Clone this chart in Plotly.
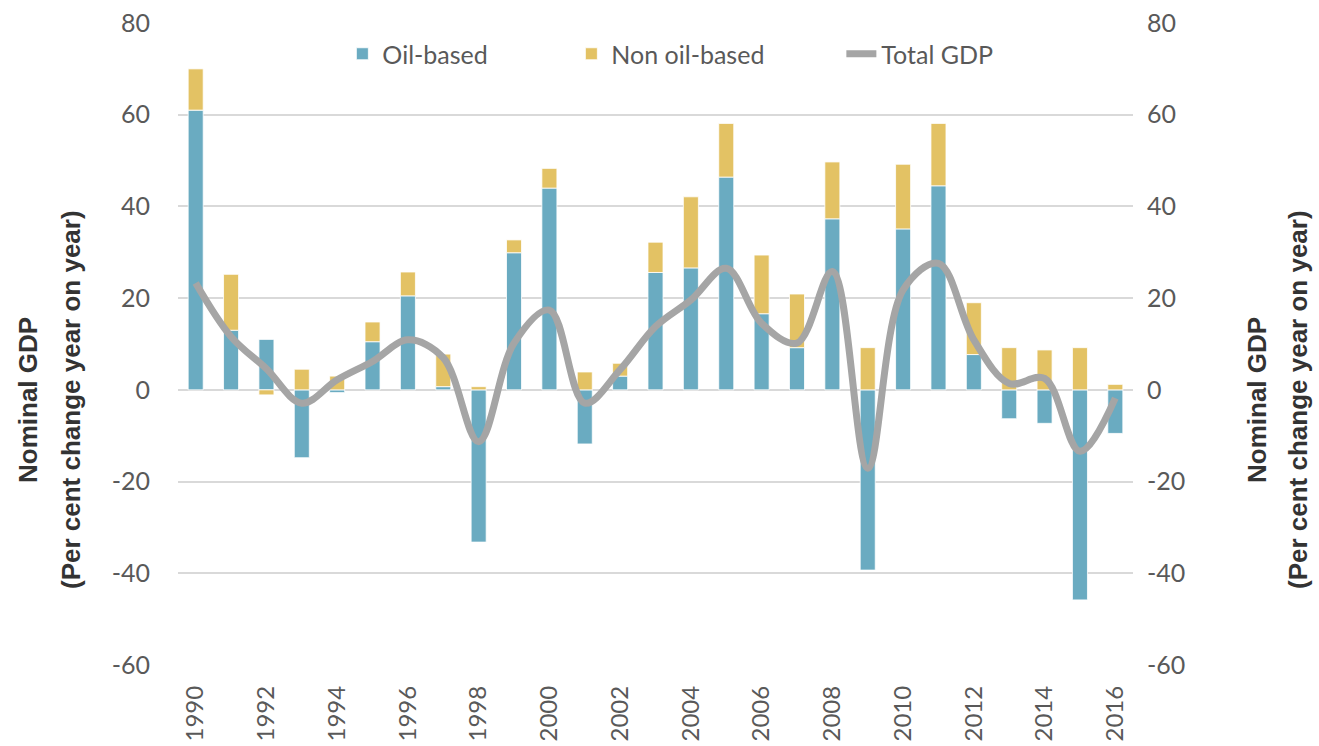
import plotly.graph_objects as go

years = list(range(1990, 2017))
oil_based = [61.0, 13.0, 11.0, -14.8, -0.6, 10.5, 20.5, 0.7, -33.2, 29.9,
             44.0, -11.8, 3.0, 25.6, 26.6, 46.4, 16.6, 9.2, 37.3, -39.3,
             35.1, 44.5, 7.7, -6.3, -7.3, -45.8, -9.5]
non_oil_based = [9.0, 12.2, -1.1, 4.5, 3.0, 4.3, 5.2, 7.1, 0.7, 2.8,
                 4.3, 3.9, 2.8, 6.6, 15.5, 11.7, 12.8, 11.7, 12.4, 9.2,
                 14.1, 13.6, 11.3, 9.2, 8.7, 9.2, 1.2]
total_gdp = [23.3, 11.6, 4.6, -2.9, 2.2, 6.2, 10.9, 7.0, -11.3, 10.2,
             17.4, -2.9, 4.4, 13.8, 19.6, 26.5, 14.5, 10.2, 25.8, -17.1,
             21.8, 27.6, 10.9, 1.4, 2.5, -13.4, -1.8]
tick_years = list(range(1990, 2017, 2))
y_ticks = list(range(-60, 81, 20))
y_tick_text = [str(v) for v in y_ticks]

TEAL = "#6AABC1"
GOLD = "#E3C264"
GREY = "#A5A5A5"
TXT = "#595959"
FONT = "Lato"

fig = go.Figure()
fig.add_trace(go.Bar(x=years, y=oil_based, name="Oil-based",
                     marker=dict(color=TEAL, line=dict(color="white", width=0.8)),
                     legend="legend2"))
fig.add_trace(go.Bar(x=years, y=non_oil_based, name="Non oil-based",
                     marker=dict(color=GOLD, line=dict(color="white", width=0.8)),
                     legend="legend3"))
fig.add_trace(go.Scatter(x=years, y=total_gdp, name="Total GDP", mode="lines",
                         line=dict(color=GREY, width=7, shape="spline", smoothing=1.0),
                         yaxis="y2", legend="legend4"))

leg_common = dict(orientation="h", yanchor="middle", y=1.0 - (54 - 23) / 642,
                  xanchor="left", font=dict(family=FONT, size=25, color=TXT),
                  bgcolor="rgba(0,0,0,0)", itemwidth=30)

fig.update_layout(
    width=1319, height=746,
    margin=dict(l=178, r=186, t=23, b=81, autoexpand=False),
    plot_bgcolor="white", paper_bgcolor="white",
    barmode="relative", bargap=0.575, showlegend=True,
    font=dict(family=FONT, size=25, color=TXT),
    xaxis=dict(range=[1989.5, 2016.5], tickvals=tick_years, ticktext=[str(y) for y in tick_years],
               tickangle=-90, showgrid=False, zeroline=False, showline=False, ticks="",
               automargin=False,
               tickfont=dict(family=FONT, size=24, color=TXT), ticklabelstandoff=15),
    yaxis=dict(range=[-60, 80], tickvals=y_ticks, ticktext=y_tick_text, showgrid=True,
               gridcolor="#D9D9D9", gridwidth=1.5, automargin=False,
               zeroline=True, zerolinecolor="#D9D9D9", zerolinewidth=1.5, showline=False, ticks="",
               tickfont=dict(family=FONT, size=25, color=TXT), ticklabelstandoff=27),
    yaxis2=dict(range=[-60, 80], tickvals=y_ticks, ticktext=y_tick_text, overlaying="y", side="right",
                showgrid=False, zeroline=False, showline=False, ticks="", automargin=False,
                tickfont=dict(family=FONT, size=25, color=TXT), ticklabelstandoff=13),
    legend2=dict(leg_common, x=(337 - 178 + 13) / 955 - 0.008),
    legend3=dict(leg_common, x=(567 - 178 + 12) / 955 - 0.008),
    legend4=dict(leg_common, x=(835 - 178 + 14) / 955 - 0.008),
)

yc = (665 - 400) / 642
title_font = dict(family="Liberation Sans", size=26, color="#333333")
for xs, text, xpaper in [(-150, "<b>Nominal GDP</b>", 0), (-107, "<b>(Per cent change year on year)</b>", 0),
                         (124, "<b>Nominal GDP</b>", 1), (165, "<b>(Per cent change year on year)</b>", 1)]:
    fig.add_annotation(x=xpaper, y=yc, xref="paper", yref="paper", xanchor="center", yanchor="middle",
                       xshift=xs, text=text, textangle=-90, showarrow=False, font=title_font)

fig.write_html("out.html", config={"displayModeBar": False},
               post_script="document.body.style.margin='0';"
               "document.body.style.overflow='hidden';")
